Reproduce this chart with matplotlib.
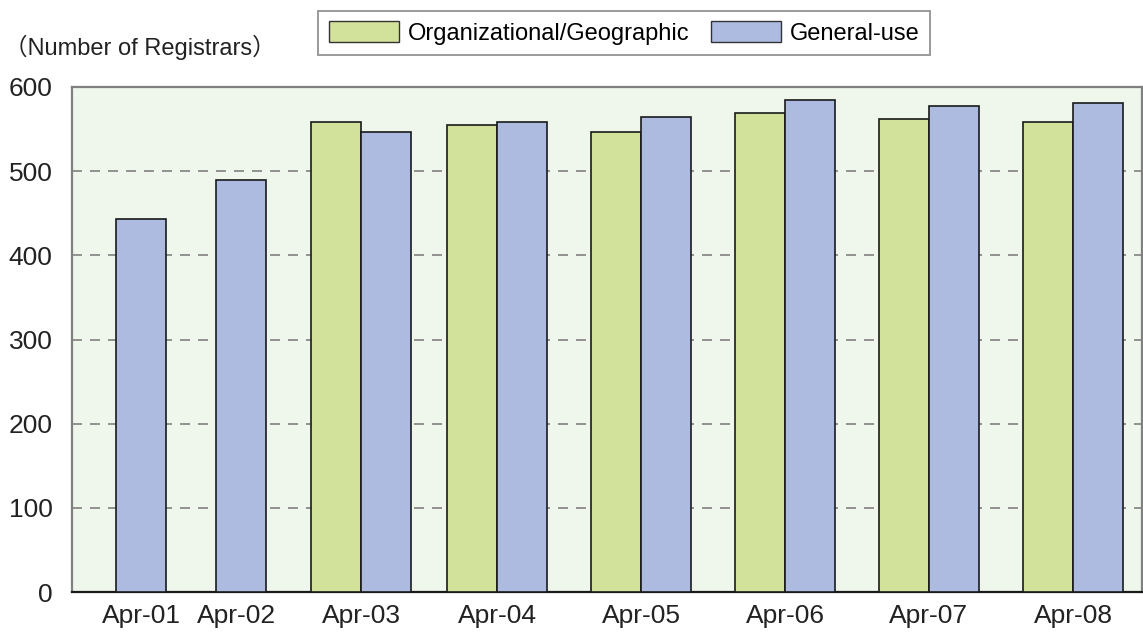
import matplotlib.pyplot as plt
from matplotlib.patches import Patch

CATEGORIES = ["Apr-01", "Apr-02", "Apr-03", "Apr-04", "Apr-05", "Apr-06", "Apr-07", "Apr-08"]
ORG_GEO = [0, 0, 559, 555, 547, 569, 562, 559]
GENERAL_USE = [443, 490, 547, 559, 564, 585, 578, 581]

# layout (axis units = pixels from the left spine)
SPLITS = [44, 144, 289, 425, 569, 713, 857, 1001]
TICK_POS = [69, 165, 289, 425, 569, 713, 857, 1001]
BAR_W = 50

GREEN = "#d3e29a"
BLUE = "#adbbe0"
BG = "#eff7ec"

plt.rcParams["font.family"] = ["Liberation Sans", "Noto Sans CJK JP", "DejaVu Sans"]

fig = plt.figure(figsize=(11.43, 6.34), dpi=100)
ax = fig.add_axes([72 / 1143, 1 - 592 / 634, 1070 / 1143, 505 / 634])
ax.set_facecolor(BG)

green_x = [s - BAR_W for s in SPLITS]
ax.bar(green_x, ORG_GEO, width=BAR_W, align="edge", color=GREEN,
       edgecolor="#1a1a1a", linewidth=1.2, zorder=3)
ax.bar(SPLITS, GENERAL_USE, width=BAR_W, align="edge", color=BLUE,
       edgecolor="#1a1a1a", linewidth=1.2, zorder=3)

ax.set_xlim(0, 1070)
ax.set_ylim(0, 600)
ax.set_yticks(range(0, 601, 100))
ax.set_xticks(TICK_POS)
ax.set_xticklabels(CATEGORIES)
ax.tick_params(axis="both", length=0, labelsize=19, colors="#222222")
ax.tick_params(axis="x", pad=9)
ax.tick_params(axis="y", pad=14)

for v in range(100, 600, 100):
    ax.axhline(v, color="#808080", linestyle=(0, (6, 4.8)), linewidth=1.2, zorder=1)

for side in ["left", "top", "right"]:
    ax.spines[side].set_color("#808080")
    ax.spines[side].set_linewidth(1.6)
ax.spines["bottom"].set_color("#1a1a1a")
ax.spines["bottom"].set_linewidth(1.6)

fig.text(4 / 1143, 1 - 47 / 634, "（Number of Registrars）", fontsize=17,
         ha="left", va="center", color="#222222")

handles = [Patch(facecolor=GREEN, edgecolor="#333333", label="Organizational/Geographic"),
           Patch(facecolor=BLUE, edgecolor="#333333", label="General-use")]
leg = fig.legend(handles=handles, loc="center", bbox_to_anchor=(624 / 1143, 1 - 33 / 634),
                 ncol=2, fontsize=17, frameon=True, fancybox=False, handlelength=3.0,
                 handleheight=1.0, handletextpad=0.35, columnspacing=0.9,
                 borderpad=0.45, borderaxespad=0)
leg.get_frame().set_edgecolor("#808080")
leg.get_frame().set_linewidth(1.4)

fig.savefig("out.png", dpi=100)
